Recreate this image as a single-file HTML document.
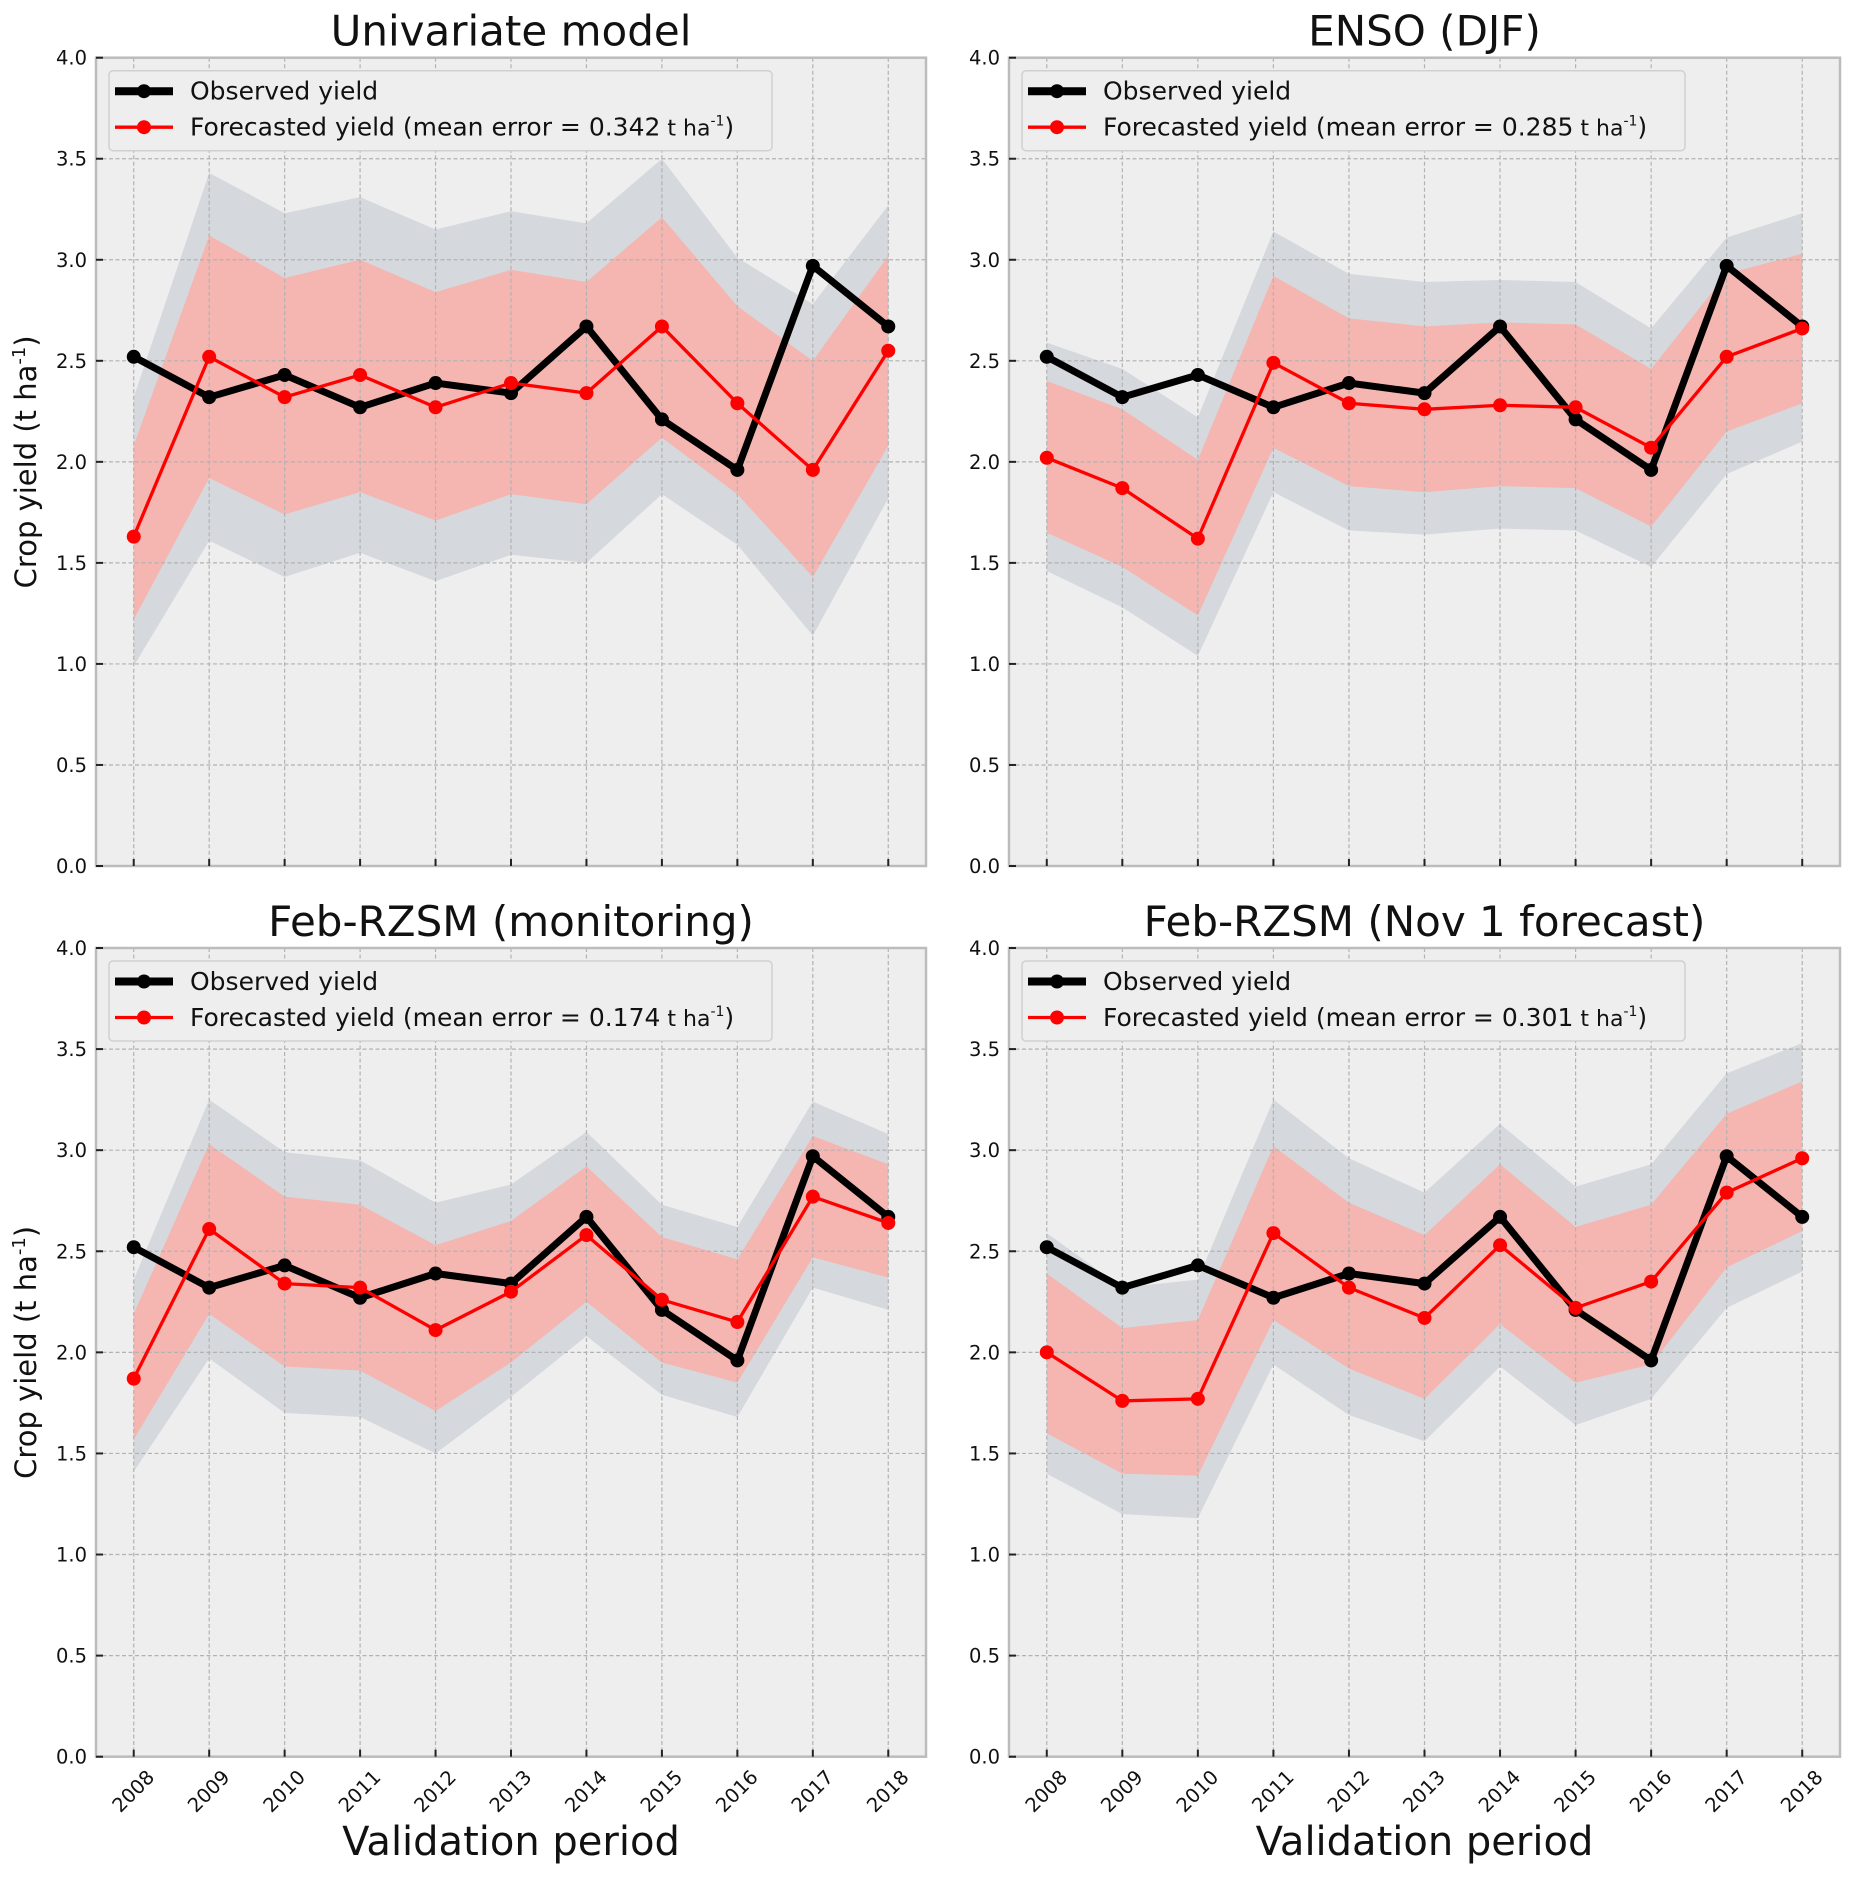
<!DOCTYPE html>
<html><head><meta charset="utf-8"><style>
html,body{margin:0;padding:0;background:#fff;}
svg{display:block;font-family:"DejaVu Sans","Liberation Sans",sans-serif;}
</style></head><body>
<svg id="fig" width="1857" height="1881" viewBox="0 0 1857 1881" xmlns="http://www.w3.org/2000/svg"></svg>
<script>
const years = [2008,2009,2010,2011,2012,2013,2014,2015,2016,2017,2018];
const observed = [2.52,2.32,2.43,2.27,2.39,2.34,2.67,2.21,1.96,2.97,2.67];
const yTicks = [0,0.5,1.0,1.5,2.0,2.5,3.0,3.5,4.0];
const yTickLabels = ["0.0","0.5","1.0","1.5","2.0","2.5","3.0","3.5","4.0"];
const titles = ["Univariate model","ENSO (DJF)","Feb-RZSM (monitoring)","Feb-RZSM (Nov 1 forecast)"];
const meanErrors = ["0.342","0.285","0.174","0.301"];
const forecastP1 = [1.63,2.52,2.32,2.43,2.27,2.39,2.34,2.67,2.29,1.96,2.55];
const redUpP1 = [2.08,3.12,2.91,3.00,2.84,2.95,2.89,3.21,2.77,2.50,3.02];
const redLoP1 = [1.22,1.92,1.74,1.85,1.71,1.84,1.79,2.12,1.84,1.43,2.08];
const grayUpP1 = [2.32,3.43,3.23,3.31,3.15,3.24,3.18,3.50,3.01,2.78,3.27];
const grayLoP1 = [0.99,1.61,1.43,1.55,1.41,1.54,1.50,1.84,1.59,1.14,1.82];
const forecastP2 = [2.02,1.87,1.62,2.49,2.29,2.26,2.28,2.27,2.07,2.52,2.66];
const redUpP2 = [2.40,2.26,2.01,2.92,2.71,2.67,2.69,2.68,2.46,2.93,3.03];
const redLoP2 = [1.65,1.48,1.24,2.07,1.88,1.85,1.88,1.87,1.68,2.15,2.29];
const grayUpP2 = [2.59,2.46,2.22,3.14,2.93,2.89,2.90,2.89,2.66,3.11,3.23];
const grayLoP2 = [1.46,1.28,1.04,1.85,1.66,1.64,1.67,1.66,1.48,1.94,2.10];
const forecastP3 = [1.87,2.61,2.34,2.32,2.11,2.30,2.58,2.26,2.15,2.77,2.64];
const redUpP3 = [2.19,3.03,2.77,2.73,2.53,2.65,2.92,2.57,2.46,3.07,2.93];
const redLoP3 = [1.57,2.19,1.93,1.91,1.71,1.95,2.25,1.95,1.85,2.47,2.37];
const grayUpP3 = [2.36,3.25,2.99,2.95,2.74,2.83,3.09,2.73,2.62,3.24,3.08];
const grayLoP3 = [1.41,1.97,1.70,1.68,1.50,1.78,2.08,1.79,1.68,2.32,2.21];
const forecastP4 = [2.00,1.76,1.77,2.59,2.32,2.17,2.53,2.22,2.35,2.79,2.96];
const redUpP4 = [2.39,2.12,2.16,3.02,2.74,2.58,2.93,2.62,2.73,3.18,3.34];
const redLoP4 = [1.60,1.40,1.39,2.16,1.92,1.77,2.14,1.85,1.94,2.42,2.60];
const grayUpP4 = [2.59,2.32,2.36,3.25,2.96,2.79,3.13,2.82,2.93,3.38,3.53];
const grayLoP4 = [1.40,1.20,1.18,1.94,1.69,1.56,1.93,1.64,1.77,2.22,2.40];

const NS="http://www.w3.org/2000/svg";
const svg=document.getElementById('fig');
function mk(tag,attrs,parent){const e=document.createElementNS(NS,tag);for(const k in attrs)e.setAttribute(k,attrs[k]);(parent||svg).appendChild(e);return e;}

const panels=[
 {x0:96,x1:926,y0:57.7,y1:866,f:forecastP1,ru:redUpP1,rl:redLoP1,gu:grayUpP1,gl:grayLoP1,ylab:true,xlab:false},
 {x0:1009,x1:1840,y0:57.7,y1:866,f:forecastP2,ru:redUpP2,rl:redLoP2,gu:grayUpP2,gl:grayLoP2,ylab:false,xlab:false},
 {x0:96,x1:926,y0:948,y1:1756.7,f:forecastP3,ru:redUpP3,rl:redLoP3,gu:grayUpP3,gl:grayLoP3,ylab:true,xlab:true},
 {x0:1009,x1:1840,y0:948,y1:1756.7,f:forecastP4,ru:redUpP4,rl:redLoP4,gu:grayUpP4,gl:grayLoP4,ylab:false,xlab:true}
];

panels.forEach((p,i)=>{
  const g=mk('g',{});
  
  
  const W=p.x1-p.x0, m=W/22;
  const xs=v=>p.x0+m+(v-years[0])/(years[years.length-1]-years[0])*(W-2*m);
  const ys=v=>p.y1-(v/4)*(p.y1-p.y0);
  const bg=mk('rect',{x:p.x0,y:p.y0,width:W,height:p.y1-p.y0,fill:'#eeeeee'},g);
  
  
  function band(up,lo,color,name){
    let d='M'+years.map((y,k)=>xs(y)+','+ys(up[k])).join('L');
    for(let k=years.length-1;k>=0;k--)d+='L'+xs(years[k])+','+ys(lo[k]);
    const e=mk('path',{d:d+'Z',fill:color},g);
    
    
  }
  band(p.gu,p.gl,'#d5d8dc','outer-uncertainty-band');
  band(p.ru,p.rl,'#f5b5b0','inner-uncertainty-band');
  yTicks.forEach(t=>{const l=mk('line',{x1:p.x0,x2:p.x1,y1:ys(t),y2:ys(t),stroke:'#b2b2b2','stroke-width':1.2,'stroke-dasharray':'4,2.5'},g);
    });
  years.forEach(t=>{const l=mk('line',{y1:p.y0,y2:p.y1,x1:xs(t),x2:xs(t),stroke:'#b2b2b2','stroke-width':1.2,'stroke-dasharray':'4,2.5'},g);
    });
  const sp=mk('rect',{x:p.x0,y:p.y0,width:W,height:p.y1-p.y0,fill:'none',stroke:'#bcbcbc','stroke-width':2.5},g);
  
  yTicks.forEach((t,k)=>{
    const tk=mk('line',{x1:p.x0,x2:p.x0+7,y1:ys(t),y2:ys(t),stroke:'#222','stroke-width':2},g);
    
    const tl=mk('text',{x:p.x0-9,y:ys(t)+7,'text-anchor':'end','font-size':19.5,fill:'#111'},g);
    tl.textContent=yTickLabels[k];
    
  });
  years.forEach(t=>{
    const tk=mk('line',{x1:xs(t),x2:xs(t),y1:p.y1,y2:p.y1-7,stroke:'#222','stroke-width':2},g);
    
    if(p.xlab){
      const cx=xs(t), cy=p.y1+35;
      const tl=mk('text',{x:cx,y:cy+6,'text-anchor':'middle','font-size':19.5,fill:'#111',transform:'rotate(-45 '+cx+' '+cy+')'},g);
      tl.textContent=t;
      
    }
  });
  const obs=mk('polyline',{points:years.map((y,k)=>xs(y)+','+ys(observed[k])).join(' '),fill:'none',stroke:'#000','stroke-width':7,'stroke-linejoin':'round'},g);
  
  years.forEach((y,k)=>{const c=mk('circle',{cx:xs(y),cy:ys(observed[k]),r:7,fill:'#000'},g);
    });
  const fc=mk('polyline',{points:years.map((y,k)=>xs(y)+','+ys(p.f[k])).join(' '),fill:'none',stroke:'#ff0000','stroke-width':3.3,'stroke-linejoin':'round'},g);
  
  years.forEach((y,k)=>{const c=mk('circle',{cx:xs(y),cy:ys(p.f[k]),r:7,fill:'#ff0000'},g);
    });
  const lg=mk('g',{},g);
  
  const lx=p.x0+13, ly=p.y0+13;
  mk('rect',{x:lx,y:ly,width:663,height:80,rx:4,fill:'#eeeeee',stroke:'#d0d0d0','stroke-width':1.5},lg);
  mk('line',{x1:lx+6,x2:lx+64,y1:ly+20.5,y2:ly+20.5,stroke:'#000','stroke-width':8},lg);
  mk('circle',{cx:lx+35,cy:ly+20.5,r:7,fill:'#000'},lg);
  mk('line',{x1:lx+6,x2:lx+64,y1:ly+56.5,y2:ly+56.5,stroke:'#ff0000','stroke-width':3.3},lg);
  mk('circle',{cx:lx+35,cy:ly+56.5,r:7,fill:'#ff0000'},lg);
  const t1=mk('text',{x:lx+81,y:ly+29,'font-size':25,fill:'#111'},lg);
  t1.textContent='Observed yield';
  
  const t2=mk('text',{x:lx+81,y:ly+65,'font-size':25,fill:'#111'},lg);
  t2.innerHTML='Forecasted yield (mean error = '+meanErrors[i]+'<tspan font-size="22"> t ha</tspan><tspan font-size="14" dy="-10">-1</tspan><tspan dy="10">)</tspan>';
  
  const tt=mk('text',{x:(p.x0+p.x1)/2,y:p.y0-12,'text-anchor':'middle','font-size':42,fill:'#111'},g);
  tt.textContent=titles[i];
  
  if(p.ylab){
    const cx=36, cy=(p.y0+p.y1)/2;
    const yl=mk('text',{x:cx,y:cy,'text-anchor':'middle','font-size':29,fill:'#111',transform:'rotate(-90 '+cx+' '+cy+')'},g);
    yl.innerHTML='Crop yield (t ha<tspan font-size="18" dy="-11">-1</tspan><tspan dy="11">)</tspan>';
    
  }
  if(p.xlab){
    const xl=mk('text',{x:(p.x0+p.x1)/2,y:1855,'text-anchor':'middle','font-size':40,fill:'#111'},g);
    xl.textContent='Validation period';
    
  }
});
</script>
</body></html>
